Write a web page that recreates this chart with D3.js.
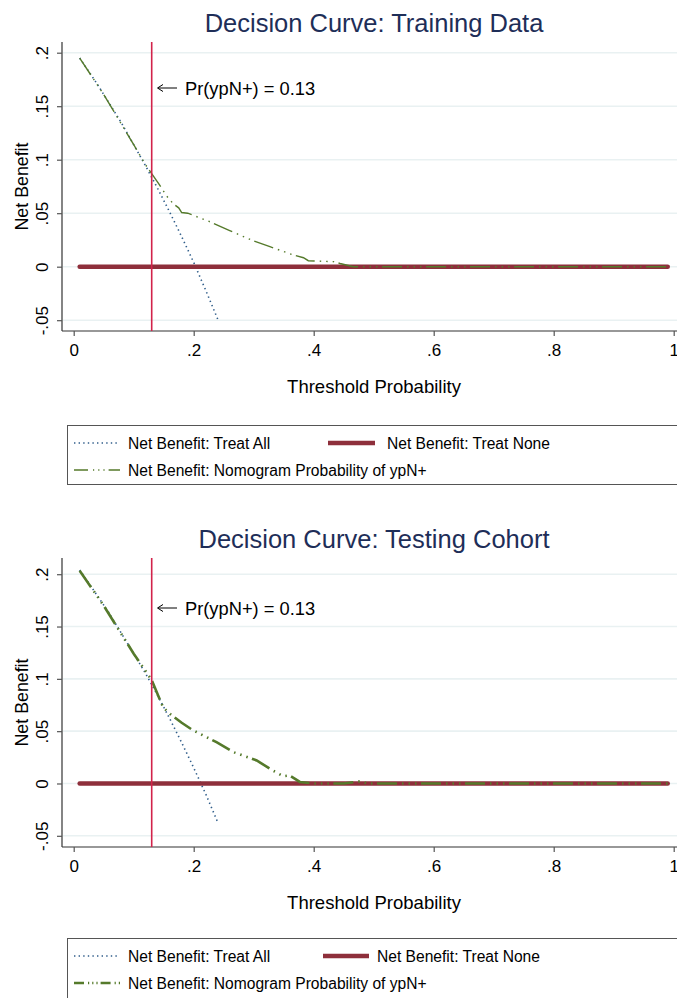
<!DOCTYPE html>
<html><head><meta charset="utf-8">
<script src="https://cdn.jsdelivr.net/npm/d3@7"></script>
<style>body{margin:0;background:#fff}svg{display:block;font-family:"Liberation Sans",Arial,sans-serif}</style>
</head><body>
<svg id="c" width="677" height="998"></svg>
<script>
// ---- data ----
const xTicks = [0, 0.2, 0.4, 0.6, 0.8, 1];
const xTickLabels = ["0", ".2", ".4", ".6", ".8", "1"];
const yTicks = [-0.05, 0, 0.05, 0.1, 0.15, 0.2];
const yTickLabels = ["-.05", "0", ".05", ".1", ".15", ".2"];
const cutoff = 0.13;
const cutoffLabel = "Pr(ypN+) = 0.13";

const trainTitle = "Decision Curve: Training Data";
const trainAllX = [0.01, 0.04, 0.06, 0.08, 0.10, 0.12, 0.14, 0.16, 0.18, 0.20, 0.22, 0.24];
const trainAllY = [0.195, 0.170, 0.152, 0.134, 0.114, 0.094, 0.073, 0.051, 0.028, 0.004, -0.022, -0.049];
const trainNoneX = [0.01, 0.99];
const trainNoneY = [0, 0];
const trainModelX = [0.01, 0.05, 0.10, 0.12, 0.13, 0.143, 0.155, 0.166, 0.175, 0.18, 0.19, 0.227, 0.26, 0.30, 0.327, 0.366, 0.383, 0.391, 0.433, 0.444, 0.466, 0.6, 0.8, 0.99];
const trainModelY = [0.195, 0.161, 0.114, 0.095, 0.087, 0.0765, 0.066, 0.0587, 0.055, 0.0506, 0.050, 0.042, 0.0337, 0.024, 0.0187, 0.011, 0.0084, 0.0056, 0.0047, 0.003, 0, 0, 0, 0];

const testTitle = "Decision Curve: Testing Cohort";
const testAllX = [0.01, 0.04, 0.06, 0.08, 0.10, 0.12, 0.14, 0.16, 0.18, 0.20, 0.22, 0.24];
const testAllY = [0.204, 0.179, 0.162, 0.143, 0.124, 0.105, 0.084, 0.062, 0.039, 0.015, -0.010, -0.037];
const testNoneX = [0.01, 0.99];
const testNoneY = [0, 0];
const testModelX = [0.01, 0.05, 0.10, 0.13, 0.149, 0.1605, 0.18, 0.1993, 0.238, 0.266, 0.305, 0.333, 0.349, 0.36, 0.377, 0.40, 0.45, 0.477, 0.49, 0.6, 0.8, 0.99];
const testModelY = [0.2034, 0.170, 0.124, 0.0989, 0.0728, 0.0665, 0.058, 0.0507, 0.0395, 0.030, 0.022, 0.012, 0.007, 0.0076, 0.0015, 0, 0, 0.002, 0, 0, 0, 0];

const legendLabels = ["Net Benefit: Treat All", "Net Benefit: Treat None", "Net Benefit: Nomogram Probability of ypN+"];
const xTitle = "Threshold Probability";
const yTitle = "Net Benefit";

// ---- drawing ----
const svg = d3.select("#c");
const C = {all: "#2f5d8a", none: "#8e2f3b", model: "#557a2b", cut: "#d2234b", title: "#1e2e58", grid: "#e9f1f2", axis: "#333"};

function panel(o) {
  const g = svg.append("g");
  const x = d3.scaleLinear().domain([0, 1]).range([73.7, 673.7]);
  const y = d3.scaleLinear().domain(o.yDom).range([o.bottom, o.top]);
  // title
  g.append("text").attr("x", 374).attr("y", o.titleY).attr("text-anchor", "middle")
    .attr("font-size", 25.5).attr("fill", C.title).text(o.title);
  // grid
  g.selectAll(".gr").data(yTicks).join("line")
    .attr("x1", 63).attr("x2", 677).attr("y1", d => y(d)).attr("y2", d => y(d))
    .attr("stroke", C.grid).attr("stroke-width", 1.6);
  // axes
  const ya = g.append("g").attr("transform", "translate(62,0)")
    .call(d3.axisLeft(y).tickValues(yTicks).tickFormat((d, i) => yTickLabels[i]).tickSize(5).tickSizeOuter(0));
  ya.select(".domain").attr("d", `M0,${o.top}V${o.bottom}`).attr("stroke", C.axis).attr("stroke-width", 1.2);
  ya.selectAll(".tick line").attr("stroke", "#555").attr("stroke-width", 1.2);
  ya.selectAll(".tick text").attr("x", null).attr("dy", null)
    .attr("transform", "translate(-14,0) rotate(-90)").attr("text-anchor", "middle")
    .attr("font-size", 17).attr("fill", "#000").attr("font-family", "Liberation Sans, Arial");
  const xa = g.append("g").attr("transform", `translate(0,${o.bottom})`)
    .call(d3.axisBottom(x).tickValues(xTicks).tickFormat((d, i) => xTickLabels[i]).tickSize(5).tickSizeOuter(0));
  xa.select(".domain").attr("d", `M62,0H677`).attr("stroke", C.axis).attr("stroke-width", 1.2);
  xa.selectAll(".tick line").attr("stroke", "#555").attr("stroke-width", 1.2);
  xa.selectAll(".tick text").attr("y", 25).attr("dy", null)
    .attr("font-size", 17).attr("fill", "#000").attr("font-family", "Liberation Sans, Arial");
  // axis titles
  g.append("text").attr("transform", `translate(28,${(o.top + o.bottom) / 2}) rotate(-90)`)
    .attr("text-anchor", "middle").attr("font-size", 17.8).text(yTitle);
  g.append("text").attr("x", 374).attr("y", o.bottom + 62).attr("text-anchor", "middle")
    .attr("font-size", 18.5).text(xTitle);
  const line = d3.line().x(d => x(d[0])).y(d => y(d[1]));
  // treat all
  g.append("path").attr("d", line(d3.zip(o.allX, o.allY))).attr("fill", "none")
    .attr("stroke", C.all).attr("stroke-width", 1.6).attr("stroke-dasharray", "1.4,3.2");
  // treat none
  g.append("path").attr("d", line(d3.zip(o.noneX, o.noneY))).attr("fill", "none")
    .attr("stroke", C.none).attr("stroke-width", 4.6).attr("stroke-linecap", "round");
  // model
  g.append("path").attr("d", line(d3.zip(o.modelX, o.modelY))).attr("fill", "none")
    .attr("stroke", C.model).attr("stroke-width", o.modelW).attr("stroke-dasharray", o.modelDash);
  // cutoff line
  g.append("line").attr("x1", x(cutoff)).attr("x2", x(cutoff)).attr("y1", o.top).attr("y2", o.bottom)
    .attr("stroke", C.cut).attr("stroke-width", 1.6);
  // annotation
  const ay = o.annY;
  g.append("line").attr("x1", 158).attr("x2", 177).attr("y1", ay).attr("y2", ay).attr("stroke", "#000").attr("stroke-width", 1);
  g.append("path").attr("d", `M163,${ay - 3.5}L157.5,${ay}L163,${ay + 3.5}`).attr("fill", "none").attr("stroke", "#000").attr("stroke-width", 1);
  g.append("text").attr("x", 185).attr("y", ay + 6.5).attr("font-size", 18.3).text(cutoffLabel);
  // legend
  const L = o.leg;
  g.append("rect").attr("x", 67.5).attr("y", L.top + 0.5).attr("width", 640).attr("height", L.h)
    .attr("fill", "#fff").attr("stroke", "#555").attr("stroke-width", 1);
  const r1 = L.top + 18, r2 = L.top + 45;
  g.append("line").attr("x1", 74).attr("x2", 120).attr("y1", r1).attr("y2", r1)
    .attr("stroke", C.all).attr("stroke-width", 1.5).attr("stroke-dasharray", "1.4,3.2");
  g.append("text").attr("x", 128).attr("y", r1 + 6).attr("font-size", 15.6).text(legendLabels[0]);
  g.append("line").attr("x1", L.nx1).attr("x2", L.nx2).attr("y1", r1).attr("y2", r1)
    .attr("stroke", C.none).attr("stroke-width", 4.6);
  g.append("text").attr("x", L.nt).attr("y", r1 + 6).attr("font-size", 15.6).text(legendLabels[1]);
  g.append("line").attr("x1", 74).attr("x2", 120).attr("y1", r2).attr("y2", r2)
    .attr("stroke", C.model).attr("stroke-width", o.modelW).attr("stroke-dasharray", o.legDash);
  g.append("text").attr("x", 128).attr("y", r2 + 6).attr("font-size", 15.6).text(legendLabels[2]);
}

panel({
  title: trainTitle, titleY: 32, top: 42, bottom: 331, yDom: [-0.0601, 0.21],
  allX: trainAllX, allY: trainAllY, noneX: trainNoneX, noneY: trainNoneY, modelX: trainModelX, modelY: trainModelY,
  modelW: 1.4, modelDash: "20,5,1.5,5,1.5,5,1.5,4.5", legDash: "14,5,1.2,4,1.2,4,1.2,4,12",
  annY: 88, leg: {top: 425, h: 59, nx1: 328, nx2: 375, nt: 387}
});
panel({
  title: testTitle, titleY: 548, top: 558, bottom: 847, yDom: [-0.0607, 0.2155],
  allX: testAllX, allY: testAllY, noneX: testNoneX, noneY: testNoneY, modelX: testModelX, modelY: testModelY,
  modelW: 2.6, modelDash: "20,5,1.5,5,1.5,5,1.5,4.5", legDash: "10,4,1.2,3,1.2,3,1.2,3,10,4,1.2,3,1.2",
  annY: 608, leg: {top: 938, h: 70, nx1: 323, nx2: 369, nt: 377}
});
</script>
</body></html>
